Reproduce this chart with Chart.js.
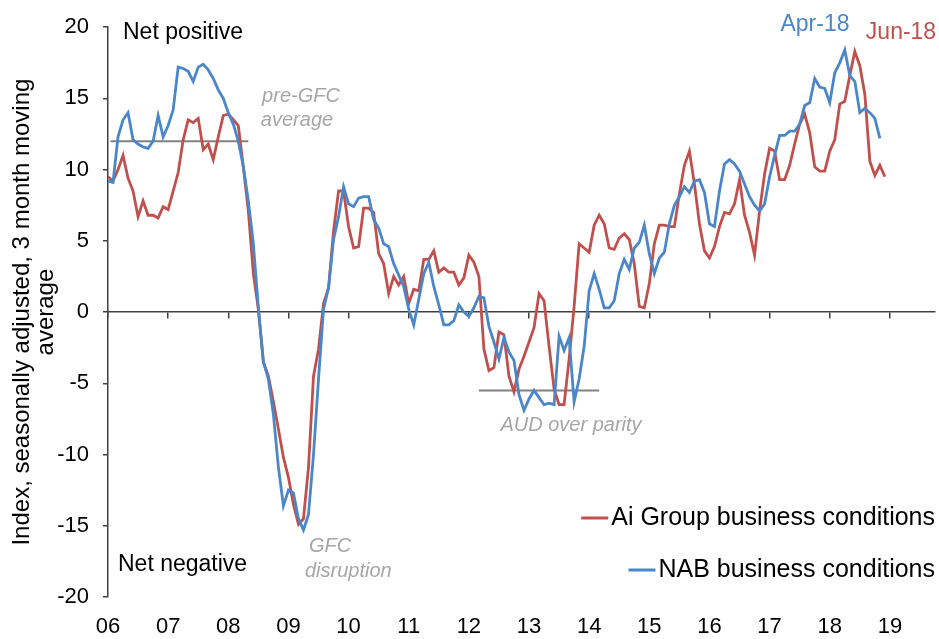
<!DOCTYPE html>
<html>
<head>
<meta charset="utf-8">
<script src="https://cdn.jsdelivr.net/npm/chart.js@4.4.1/dist/chart.umd.min.js"></script>
<style>
  html, body { margin: 0; padding: 0; background: #fff; }
  #wrap { width: 939px; height: 639px; }
</style>
</head>
<body>
<div id="wrap"><canvas id="chart" width="939" height="639"></canvas></div>
<script>
// monthly values, first point = Jan 2006
const yearLabels = ['06', '07', '08', '09', '10', '11', '12', '13', '14', '15', '16', '17', '18', '19'];

const aiGroup = [
  9.5, 9.2, 10.0, 11.0, 9.4, 8.5, 6.7, 7.8, 6.8, 6.8, 6.6, 7.4,
  7.2, 8.5, 9.8, 12.1, 13.5, 13.3, 13.6, 11.4, 11.8, 10.7, 12.3, 13.8,
  13.9, 13.5, 13.1, 10.2, 7.1, 2.7, 0.2, -3.5, -4.5, -6.3, -8.2, -10.2,
  -11.6, -13.5, -14.9, -14.5, -10.9, -4.5, -2.6, 0.6, 1.7, 5.7, 8.5, 8.5,
  6.0, 4.5, 4.6, 7.3, 7.3, 7.0, 4.1, 3.4, 1.3, 2.5, 1.9, 2.5,
  0.6, 1.6, 1.5, 3.7, 3.7, 4.3, 2.8, 3.1, 2.8, 2.8, 1.9, 2.4,
  4.0, 3.5, 2.5, -2.6, -4.1, -3.9, -1.4, -1.6, -4.5, -5.6, -4.0, -3.1,
  -2.1, -1.1, 1.3, 0.8, -2.4, -5.4, -6.5, -6.5, -3.3, 0.4, 4.8, 4.5,
  4.2, 6.1, 6.8, 6.2, 4.5, 4.4, 5.2, 5.5, 5.1, 3.4, 0.4, 0.3,
  2.0, 4.8, 6.1, 6.1, 6.0, 6.0, 8.3, 10.3, 11.3, 9.0, 6.2, 4.3,
  3.8, 4.6, 6.0, 7.0, 6.9, 7.6, 9.3, 6.8, 5.6, 4.0, 7.1, 9.7,
  11.5, 11.3, 9.3, 9.3, 10.3, 11.8, 13.2, 13.9, 12.6, 10.2, 9.9, 9.9,
  11.3, 12.1, 14.6, 14.8, 16.6, 18.3, 17.3, 15.3, 10.6, 9.6, 10.3, 9.5
];

const nab = [
  9.2, 9.1, 12.3, 13.5, 14.0, 12.1, 11.8, 11.6, 11.5, 12.0, 13.8, 12.3,
  13.1, 14.2, 17.2, 17.1, 16.9, 16.2, 17.2, 17.4, 17.0, 16.4, 15.6, 15.0,
  14.0, 13.2, 12.0, 10.2, 7.8, 4.8, 0.3, -3.5, -4.7, -7.2, -10.9, -13.6,
  -12.5, -12.7, -14.5, -15.3, -14.2, -10.0, -4.7, 0.2, 1.7, 5.1, 6.7, 8.8,
  7.6, 7.4, 8.0, 8.1, 8.1, 6.5, 5.9, 4.8, 4.6, 3.4, 2.6, 1.8,
  0.2, -0.9, 0.9, 2.7, 3.5, 1.8, 0.5, -0.9, -0.9, -0.6, 0.5, 0.0,
  -0.3, 0.3, 1.1, 1.0, -1.0, -2.1, -3.3, -1.8, -2.8, -3.4, -5.8, -6.9,
  -6.1, -5.5, -6.0, -6.5, -6.4, -6.5, -1.7, -2.7, -1.8, -6.3, -4.7, -2.4,
  1.5, 2.7, 1.6, 0.3, 0.3, 0.8, 2.7, 3.7, 3.0, 4.5, 4.9, 6.1,
  4.1, 2.7, 3.8, 4.2, 6.2, 7.5, 8.1, 8.8, 8.4, 9.2, 9.3, 8.4,
  6.2, 6.0, 8.5, 10.4, 10.7, 10.4, 9.9, 9.0, 8.1, 7.5, 7.1, 7.6,
  9.5, 11.0, 12.4, 12.4, 12.7, 12.7, 13.2, 14.5, 14.7, 16.4, 15.8, 15.7,
  14.7, 16.8, 17.5, 18.4, 16.6, 16.2, 14.0, 14.3, 14.0, 13.6, 12.2
];

// reference lines: [first month, last month], level
const preGfcSpan = [0.5, 28];
const preGfcLevel = 12.0;
const audParitySpan = [74, 98];
const audParityLevel = -5.5;

const RED = '#C0504D';
const BLUE = '#4A86C8';
const GREY_TXT = '#A6A6A6';
const FONT = "'Liberation Sans', Arial, sans-serif";

const toPoints = arr => arr.map((v, i) => ({x: i, y: v}));
const flatLine = (span, level) => span.map(m => ({x: m, y: level}));
const yearTicks = scale => { scale.ticks = yearLabels.map((l, i) => ({value: i * 12})); };

const annotations = {
  id: 'annotations',
  afterDraw(chart) {
    const ctx = chart.ctx;
    ctx.save();
    ctx.textBaseline = 'middle';

    ctx.fillStyle = '#000';
    ctx.font = '23px ' + FONT;
    ctx.textAlign = 'left';
    ctx.fillText('Net positive', 123, 33);
    ctx.fillText('Net negative', 118, 565);

    ctx.fillStyle = GREY_TXT;
    ctx.font = 'italic 20px ' + FONT;
    ctx.textAlign = 'center';
    ctx.fillText('pre-GFC', 301, 96);
    ctx.fillText('average', 297, 120);
    ctx.fillText('AUD over parity', 571, 425);
    ctx.textAlign = 'left';
    ctx.fillText('GFC', 309, 546);
    ctx.fillText('disruption', 305, 571);

    ctx.font = '23px ' + FONT;
    ctx.textAlign = 'center';
    ctx.fillStyle = BLUE;
    ctx.fillText('Apr-18', 815, 25);
    ctx.fillStyle = RED;
    ctx.fillText('Jun-18', 901, 33);

    // legend, right aligned inside the plot
    const rows = [[chart.data.datasets[0], 518], [chart.data.datasets[1], 570]];
    ctx.textAlign = 'right';
    ctx.font = '25px ' + FONT;
    rows.forEach(([ds, y]) => {
      const w = ctx.measureText(ds.label).width;
      ctx.fillStyle = '#000';
      ctx.fillText(ds.label, 935, y);
      ctx.strokeStyle = ds.borderColor;
      ctx.lineWidth = 3;
      ctx.beginPath();
      ctx.moveTo(935 - w - 30, y);
      ctx.lineTo(935 - w - 3, y);
      ctx.stroke();
    });
    ctx.restore();
  }
};

const ctx = document.getElementById('chart').getContext('2d');
const chart = new Chart(ctx, {
  type: 'line',
  data: {
    datasets: [{
      label: 'Ai Group business conditions',
      data: toPoints(aiGroup),
      borderColor: RED,
      borderWidth: 2.8,
      pointRadius: 0,
      tension: 0,
      order: 2,
    }, {
      label: 'NAB business conditions',
      data: toPoints(nab),
      borderColor: BLUE,
      borderWidth: 2.8,
      pointRadius: 0,
      tension: 0,
      order: 1,
    }, {
      label: 'pre-GFC average',
      data: flatLine(preGfcSpan, preGfcLevel),
      borderColor: '#808080',
      borderWidth: 2,
      pointRadius: 0,
      order: 3,
    }, {
      label: 'AUD over parity',
      data: flatLine(audParitySpan, audParityLevel),
      borderColor: '#808080',
      borderWidth: 2,
      pointRadius: 0,
      order: 3,
    }],
  },
  options: {
    responsive: false,
    animation: false,
    layout: { padding: { top: 22, right: 4, left: 0, bottom: 0 } },
    plugins: {
      legend: { display: false },
      tooltip: { enabled: false },
    },
    scales: {
      x: {
        type: 'linear',
        min: 0,
        max: 165,
        grid: { display: false },
        border: { display: false },
        afterBuildTicks: yearTicks,
        afterFit: s => { s.height = 42; },
        ticks: {
          color: '#000',
          font: { family: FONT, size: 22 },
          padding: 9,
          maxRotation: 0,
          autoSkip: false,
          callback: (v) => yearLabels[v / 12],
        },
      },
      x2: {
        type: 'linear',
        min: 0,
        max: 165,
        position: { y: 0 },
        afterBuildTicks: yearTicks,
        grid: { drawOnChartArea: false, drawTicks: true, tickLength: 6, color: '#404040', lineWidth: 1.5 },
        border: { color: '#404040', width: 1.5 },
        ticks: { display: false },
      },
      y: {
        min: -20,
        max: 20,
        afterFit: s => { s.width = 108; },
        ticks: {
          stepSize: 5,
          color: '#000',
          font: { family: FONT, size: 22 },
          padding: 14,
        },
        grid: { drawOnChartArea: false, drawTicks: true, tickLength: 5, color: '#404040', lineWidth: 1.5 },
        border: { color: '#404040', width: 1.5 },
        title: {
          display: true,
          text: ['Index, seasonally adjusted, 3 month moving', 'average'],
          color: '#000',
          font: { family: FONT, size: 24, lineHeight: 1.0 },
          padding: { top: 10 },
        },
      },
    },
  },
  plugins: [annotations],
});
</script>
</body>
</html>
